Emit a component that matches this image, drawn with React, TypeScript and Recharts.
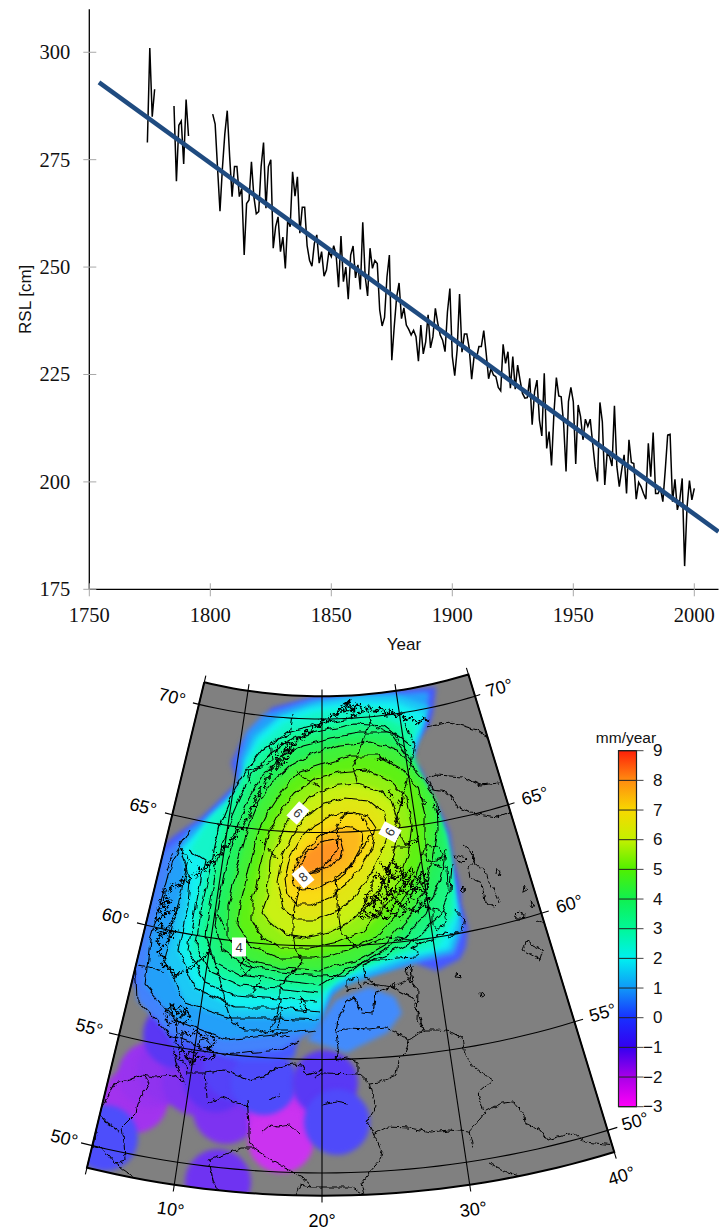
import React from 'react';
import {
  Bar, ComposedChart, Label, Line, LineChart, ReferenceLine, Scatter, ScatterChart, XAxis, YAxis,
} from 'recharts';

// ---- RSL record ----
const rslFirstYear = 1774;
const rslValues: (number | null)[] = [
  279, 301, 285, 291.4, null, null, null, null, null, null, null,
  287.5, 270, 283, 284, 274, 289, 280.5, null, null, null, null, null, null, null, null, null,
  285.6, 283.3, 273, 263, 273, 281, 286.4, 275.7, 266.4, 273.4,
  273.4, 266.4, 268.3, 252.8, 264.8, 265.6, 274.5, 266.4, 262.4, 262.9,
  273.4, 279, 263.7, 273.4, 275, 254.4, 259.4, 261.7, 253.6, 257,
  249.7, 261, 259.4, 272.2, 266.5, 271, 257.9, 263.9, 263.9, 255,
  251.6, 250.2, 255.5, 257.5, 250.9, 253.6, 247.9, 249.3, 253.6, 252.4,
  255, 252.8, 245.3, 257.2, 246.6, 250, 242.5, 252.8, 254.9, 247.5,
  250.5, 244.8, 260.4, 247.8, 243.3, 254.4, 249.7, 251.5, 250.8, 240,
  236.3, 238.3, 247.7, 252.8, 228.3, 236.1, 243, 246.3, 238, 240.5,
  236.5, 235.5, 234.2, 235.3, 233.8, 228.1, 236.5, 229.8, 232.6, 238.9,
  231.2, 233.8, 240.4, 236.9, 234.2, 233, 230.3, 239.6, 245, 229.2,
  224.7, 230.7, 243.7, 230.2, 234.4, 234.4, 231.1, 223.9, 229.2, 228.8,
  231.5, 231.5, 235.2, 229.9, 224, 226.4, 224.9, 224.5, 222, 221.2,
  232, 227.6, 230.3, 221.8, 229.2, 221.6, 227.2, 223.7, 220.6, 219.5,
  219.6, 224.1, 213.3, 221, 223.7, 214.4, 210.7, 225.3, 207.8, 211.7,
  203.8, 216, 224.3, 220, 219.8, 213.6, 202.4, 218.7, 222, 218.7,
  204.2, 217.9, 215.2, 209.8, 214.6, 212.9, 214.6, 209, 203.6, 200.1,
  218.5, 214, 199.3, 206.8, 205.9, 203.7, 217.7, 203.6, 198.9, 202.8,
  206.3, 197.3, 209.8, 204.5, 204.3, 196, 199.9, 198.9, 197.3, 196,
  209, 201.2, 211.5, 197.3, 197.3, 198.5, 195.4, 202.8, 210.9, 211.1,
  195.4, 200.6, 193.5, 195.8, 200.8, 180.4, 194.2, 200.3, 195.8, 198.5,
];
const trendYears = [1754, 2010];
const trendValues = [293, 188.4];
const yearTicks = [1750, 1800, 1850, 1900, 1950, 2000];
const rslTicks = [175, 200, 225, 250, 275, 300];

const rslRows = [
  { year: trendYears[0], rsl: null as number | null, trend: trendValues[0] as number | undefined },
  ...rslValues.map((rsl, i) => ({ year: rslFirstYear + i, rsl, trend: undefined })),
  { year: trendYears[1], rsl: null, trend: trendValues[1] },
];

// ---- rate colour scale ----
const rateTicks = [-3, -2, -1, 0, 1, 2, 3, 4, 5, 6, 7, 8, 9];
const rateColors = [
  '#ff00f8', '#a800e8', '#3400f0', '#1830ff', '#1098f8', '#00f0f0',
  '#00f898', '#10f050', '#50f000', '#c4f000', '#f8d800', '#ff8c10', '#ff2008',
];

const hexPart = (h: string, i: number) => parseInt(h.slice(1 + i * 2, 3 + i * 2), 16);
// the map is paler than the bar, most of all on the negative side
const rateColor = (v: number) => {
  const p = Math.max(0, Math.min(11.999, v + 3));
  const i = Math.floor(p);
  const f = p - i;
  const pale = v < 1 ? 0.2 : 0.08;
  const c = [0, 1, 2].map((k) => {
    const raw = hexPart(rateColors[i], k) * (1 - f) + hexPart(rateColors[i + 1], k) * f;
    return Math.round(raw * (1 - pale) + 255 * pale);
  });
  return `rgb(${c.join(',')})`;
};

// ---- map graticule (conic projection fitted to the picture) ----
const parallels = [50, 55, 60, 65, 70];
const meridians = [10, 20, 30];
const frameLons = [4, 40];
const frameLats = [49, 71];

const proj = (lon: number, lat: number) => {
  const r = 524 + (70 - lat) * 22.7;
  const t = ((lon - 20) * 0.849 * Math.PI) / 180;
  return { x: 322 + r * Math.sin(t), y: 195 + r * Math.cos(t) };
};
const lonSteps = (a: number, b: number) => {
  const out: number[] = [];
  for (let l = a; l < b; l += 1) out.push(l);
  out.push(b);
  return out;
};
const frameOutline = [
  ...lonSteps(frameLons[0], frameLons[1]).map((l) => proj(l, frameLats[1])),
  ...lonSteps(frameLons[0], frameLons[1]).reverse().map((l) => proj(l, frameLats[0])),
];
const frameClosed = [...frameOutline, frameOutline[0]];

// ---- map plane values: tide gauge patches [x, y, rate] ----
const gaugePatches: [number, number, number][] = [
  [135, 1100, -1.75], [151, 1075, -1.65], [170, 1070, -1.55], [195, 1082, -1.4],
  [226, 1111, -1.35], [216, 1079, -1.0], [236, 1068, -0.6], [176, 1035, -0.9],
  [218, 1182, -1.2], [105, 1138, -0.3], [281, 1120, -2.2], [281, 1140, -2.25],
  [264, 1082, -0.35], [325, 1083, -0.85], [337, 1122, -0.4],
];

const coveragePts: [number, number][] = [
  [317, 696], [436, 687], [433, 713], [430, 723], [416, 743], [413, 763], [420, 767], [433, 797],
  [443, 817], [450, 833], [453, 857], [461, 890], [461, 903], [468, 927], [466, 947], [460, 959],
  [437, 971], [420, 965], [412, 957], [397, 964], [363, 965], [345, 977], [330, 990], [322, 1010],
  [300, 1030], [294, 1058], [270, 1062], [240, 1062], [210, 1052], [175, 1050], [158, 1013],
  [133, 983], [120, 963], [100, 960], [120, 870], [160, 848], [175, 835], [201, 818], [215, 805],
  [238, 782], [231, 763], [241, 743], [261, 727], [271, 708],
];
const balticEastPts: [number, number][] = [
  [307, 1040], [322, 1020], [336, 1000], [369, 987], [395, 997], [402, 1013], [387, 1033],
  [358, 1047], [347, 1053], [329, 1047],
];

// [rate, edge before, contour, edge after]
type P = [number, number];
const isolines: [number, P[], P[], P[]][] = [
  [0.5, [], [[162, 853], [150, 900], [135, 960], [137, 1000], [170, 1035], [225, 1055], [280, 1050], [298, 1040]],
    [[318, 1028], [332, 995], [345, 982], [420, 962], [455, 955], [463, 930], [457, 900], [448, 857], [428, 797], [409, 765], [425, 722], [429, 692], [312, 699], [264, 714], [246, 732], [236, 762], [238, 785], [200, 822]]],
  [1, [], [[190, 830], [172, 860], [160, 905], [150, 940], [145, 985], [175, 1020], [225, 1040], [275, 1035], [316, 1030]],
    [[330, 995], [345, 985], [420, 960], [452, 952], [461, 928], [455, 900], [446, 857], [426, 797], [408, 765], [424, 722], [428, 693], [312, 701], [266, 716], [249, 733], [240, 762], [243, 785], [205, 820]]],
  [1.5, [[429, 706], [395, 695], [360, 695], [318, 702], [280, 716], [254, 736], [243, 760], [244, 786], [210, 818]],
    [[188, 860], [178, 905], [165, 960], [185, 1003], [230, 1018], [277, 1018], [318, 1020]],
    [[330, 990], [345, 982], [410, 960], [452, 950], [460, 925], [455, 900], [445, 857], [426, 797], [408, 765], [420, 735]]],
  [2, [[425, 714], [395, 702], [350, 702], [310, 708], [280, 718], [258, 738], [246, 762], [244, 788], [204, 824]],
    [[180, 850], [190, 880], [188, 905], [178, 950], [195, 988], [235, 1008], [280, 1008], [320, 1012]],
    [[332, 984], [345, 978], [400, 958], [448, 948], [458, 915], [454, 890], [444, 835], [426, 790], [409, 765], [414, 742]]],
  [2.5, [[420, 722], [385, 708], [350, 707], [315, 712], [285, 722], [260, 742], [246, 765], [240, 790], [210, 818]],
    [[190, 850], [205, 860], [196, 905], [188, 950], [205, 982], [235, 995], [280, 998], [318, 1002]],
    [[328, 988], [345, 975], [400, 956], [438, 948], [456, 915], [453, 885], [444, 835], [426, 790], [408, 765], [410, 745]]],
  [3, [[412, 730], [380, 716]], [[350, 718], [318, 724], [288, 732], [262, 750], [245, 772], [232, 796], [220, 825], [212, 860], [202, 905], [196, 945], [210, 972], [240, 985], [277, 988], [318, 993]],
    [[330, 985], [345, 972], [395, 955], [425, 943], [452, 915], [453, 885], [447, 850], [428, 797], [410, 765]]],
  [3.5, [], [[410, 745], [385, 726], [355, 724], [325, 730], [295, 738], [270, 754], [252, 774], [240, 797], [228, 825], [218, 860], [210, 905], [205, 935], [215, 962], [240, 975], [278, 980], [320, 985], [340, 972], [385, 955], [415, 940], [440, 915], [450, 890], [452, 865]],
    [[447, 835], [425, 785]]],
  [4, [], [[412, 762], [390, 733], [360, 733], [330, 738], [302, 745], [280, 758], [262, 776], [248, 800], [238, 825], [227, 860], [218, 905], [215, 925], [222, 950], [245, 965], [280, 972], [320, 976], [345, 975], [370, 958], [400, 940], [425, 915], [440, 880], [446, 850]],
    [[441, 820], [430, 795]]],
  [4.5, [], [[420, 775], [398, 750], [372, 742], [340, 745], [312, 754], [290, 766], [272, 783], [258, 804], [248, 828], [238, 865], [228, 905], [228, 938], [248, 960], [280, 968], [320, 970], [355, 962], [385, 945], [408, 920], [425, 890], [432, 860], [437, 830], [436, 800], [420, 775]], []],
  [5, [], [[240, 905], [250, 865], [258, 832], [270, 808], [283, 788], [300, 772], [322, 765], [350, 756], [378, 756], [400, 768], [418, 787], [425, 815], [425, 850], [412, 885], [395, 915], [375, 938], [348, 950], [315, 958], [280, 958], [252, 947], [238, 925], [240, 905]], []],
  [5.5, [], [[252, 905], [260, 865], [268, 835], [280, 812], [295, 793], [315, 778], [340, 772], [365, 770], [390, 780], [407, 798], [412, 825], [408, 855], [398, 885], [382, 912], [362, 932], [338, 942], [310, 948], [282, 948], [262, 937], [252, 920], [252, 905]], []],
  [6, [], [[268, 895], [270, 860], [280, 835], [293, 814], [310, 797], [330, 787], [355, 784], [378, 790], [393, 803], [400, 825], [395, 852], [385, 880], [368, 905], [350, 922], [330, 932], [305, 938], [285, 935], [270, 922], [262, 912], [268, 895]], []],
  [6.5, [], [[277, 882], [282, 856], [292, 835], [305, 818], [322, 805], [345, 798], [368, 800], [383, 812], [388, 830], [380, 855], [368, 880], [352, 900], [335, 912], [315, 920], [297, 920], [283, 908], [277, 882]], []],
  [7, [], [[285, 878], [290, 858], [300, 840], [315, 825], [333, 815], [352, 812], [368, 816], [376, 828], [372, 848], [358, 870], [345, 885], [330, 897], [312, 905], [297, 905], [287, 895], [285, 878]], []],
  [7.5, [], [[292, 875], [298, 860], [310, 845], [322, 834], [338, 827], [352, 828], [362, 834], [360, 850], [350, 868], [335, 880], [318, 888], [302, 889], [293, 884], [292, 875]], []],
  [8, [], [[298, 867], [307, 852], [323, 842], [340, 839], [343, 850], [341, 858], [327, 867], [315, 872], [303, 872], [298, 867]], []],
];

// coasts, borders, lakes
const coastLines: P[][] = [
  [[430, 723], [424, 718], [418, 724], [411, 717], [405, 720], [402, 712], [396, 717], [391, 710], [386, 716], [380, 707], [374, 713], [369, 706], [363, 712], [358, 703], [352, 710], [347, 702], [344, 712], [339, 708], [337, 716], [331, 714], [329, 722], [322, 719], [320, 727], [313, 725], [311, 733], [305, 731], [303, 739], [297, 737], [296, 745], [290, 744], [289, 752], [283, 751], [283, 760], [277, 760], [277, 769], [271, 769], [271, 778], [266, 778], [265, 787], [260, 787], [260, 796], [255, 797], [255, 806], [250, 808], [250, 817], [245, 820], [243, 828], [238, 830], [236, 838], [231, 838], [229, 846], [224, 846], [222, 854], [216, 855], [214, 863], [208, 862], [206, 870], [199, 868], [198, 876], [191, 874], [189, 882], [182, 879], [179, 887], [172, 884], [170, 892], [163, 890], [167, 898], [159, 900], [165, 906], [157, 910], [164, 916], [156, 920], [163, 926], [155, 930], [162, 936], [156, 941], [163, 946], [158, 952], [165, 958], [161, 965], [170, 968], [175, 976], [184, 972], [190, 968], [197, 962], [204, 958], [210, 950]],
  [[210, 950], [214, 958], [216, 966], [219, 975], [221, 985], [224, 995], [226, 1005], [229, 1015], [233, 1023], [245, 1030], [258, 1030], [268, 1033], [275, 1030], [287, 1030]],
  [[270, 1030], [277, 1015], [280, 1000], [280, 985], [290, 975], [303, 962], [296, 950], [293, 935], [293, 920], [294, 908], [298, 895], [302, 880], [310, 873], [322, 867], [330, 860], [337, 850], [338, 838], [337, 827], [344, 815], [349, 812], [360, 815], [368, 825], [371, 835], [365, 845], [358, 856], [350, 866], [343, 873], [335, 878], [336, 890], [338, 903], [339, 918], [341, 932], [348, 940], [358, 947], [368, 944], [378, 940], [387, 937], [398, 938], [410, 940], [420, 943], [433, 940], [437, 935], [445, 933], [452, 934]],
  [[420, 943], [412, 948], [418, 952], [415, 957], [397, 958], [385, 960], [373, 960], [363, 965], [365, 977], [372, 982]],
  [[336, 1033], [338, 1018], [347, 1002], [354, 998], [362, 1012], [373, 1013], [376, 992], [391, 987], [413, 998], [418, 1013], [424, 1030]],
  [[155, 1077], [142, 1075], [130, 1080], [115, 1083], [104, 1103], [98, 1113], [107, 1123], [120, 1132]],
  [[173, 1047], [176, 1063], [185, 1083], [173, 1075], [155, 1077]],
  [[187, 1073], [205, 1073], [224, 1070], [238, 1075], [249, 1080], [264, 1077], [278, 1067], [293, 1064], [302, 1065], [307, 1075], [322, 1070]],
  [[176, 1020], [178, 1032], [175, 1042], [181, 1050], [178, 1060], [186, 1063], [187, 1075]],
  [[170, 1003], [175, 1010], [182, 1005], [187, 1012], [180, 1018], [172, 1015], [170, 1003]],
  [[200, 1040], [207, 1038], [212, 1047], [205, 1052], [198, 1048], [200, 1040]],
  [[190, 1050], [197, 1053], [192, 1060], [186, 1056], [190, 1050]],
  [[427, 727], [450, 722], [477, 730], [488, 738]],
  [[499, 783], [480, 785], [463, 777], [437, 775], [427, 778], [433, 790], [447, 792], [458, 807], [470, 813], [497, 817], [520, 808]],
  [[520, 755], [497, 750]],
];
const borderLines: P[][] = [
  [[336, 1033], [347, 1028], [369, 1029], [384, 1027], [395, 1032], [409, 1040]],
  [[409, 1040], [424, 1030], [438, 1030], [451, 1032], [462, 1038], [464, 1050], [469, 1062], [482, 1073], [493, 1080], [478, 1093], [484, 1112], [502, 1103], [513, 1102], [524, 1115], [525, 1123], [540, 1130], [547, 1140], [573, 1133], [584, 1142], [616, 1145]],
  [[409, 1040], [405, 1053], [398, 1060], [396, 1075], [380, 1082], [369, 1083], [358, 1073], [358, 1062], [347, 1058], [336, 1060], [338, 1047], [336, 1033]],
  [[315, 1077], [322, 1073], [358, 1074]],
  [[369, 1083], [376, 1107], [367, 1122], [373, 1133], [382, 1152], [380, 1160], [369, 1173], [362, 1183], [365, 1195]],
  [[373, 1135], [387, 1127], [409, 1128], [431, 1132], [449, 1130], [469, 1132], [485, 1113]],
  [[469, 1132], [473, 1148]],
  [[253, 1148], [267, 1157], [289, 1170], [302, 1177], [311, 1187], [322, 1187], [351, 1187], [365, 1195]],
  [[295, 1195], [300, 1185], [311, 1187]],
  [[247, 1100], [249, 1123], [249, 1137], [253, 1148]],
  [[207, 1103], [222, 1097], [238, 1103], [249, 1107]],
  [[205, 1073], [207, 1098]],
  [[209, 1160], [242, 1148], [253, 1148]],
  [[209, 1160], [213, 1180], [220, 1195]],
  [[144, 1075], [149, 1083], [138, 1103], [136, 1113], [122, 1127], [124, 1143], [125, 1160], [115, 1163], [124, 1170], [138, 1180]],
  [[98, 1113], [93, 1147], [102, 1148], [115, 1163]],
  [[489, 1163], [507, 1172], [522, 1177]],
  [[262, 1132], [270, 1125], [278, 1127], [290, 1125], [300, 1134]],
  [[322, 1105], [336, 1102], [347, 1104]],
  [[269, 1100], [280, 1095]],
  [[413, 967], [410, 980], [418, 990], [417, 1020], [424, 1030]],
  [[363, 983], [393, 987], [407, 980]],
  [[405, 723], [415, 745], [408, 775], [402, 800], [395, 825], [405, 845], [420, 837], [410, 847], [392, 847]],
  [[430, 863], [447, 868], [448, 887]],
  [[367, 708], [372, 725], [395, 735], [400, 745], [408, 750]],
  [[357, 782], [353, 767], [370, 723]],
  [[297, 773], [308, 780], [320, 787]],
  [[260, 840], [268, 848], [278, 860]],
  [[218, 915], [225, 930]],
  [[250, 783], [248, 770], [262, 767], [272, 760], [270, 742], [290, 735], [293, 715]],
  [[180, 848], [192, 863]],
  [[173, 853], [167, 870]],
  [[138, 965], [150, 967], [165, 972]],
  [[453, 907], [465, 920], [462, 930], [448, 937]],
];
const lakeLoops: P[][] = [
  [[405, 970], [410, 965], [413, 980], [410, 983], [405, 970]],
  [[463, 845], [472, 852], [475, 865], [485, 870], [487, 880], [495, 890], [500, 902], [495, 907], [485, 902], [482, 883], [470, 877], [468, 868], [475, 860], [472, 852]],
  [[455, 855], [467, 858], [462, 863], [457, 860], [455, 855]],
  [[497, 868], [500, 872], [499, 876], [496, 873], [497, 868]],
  [[462, 888], [465, 890], [462, 892], [460, 890], [462, 888]],
  [[524, 885], [527, 890], [523, 892], [524, 885]],
  [[530, 900], [534, 905], [532, 908], [530, 900]],
  [[515, 915], [519, 911], [524, 914], [523, 919], [517, 919], [515, 915]],
  [[527, 940], [533, 945], [543, 950], [540, 960], [535, 957], [523, 950], [527, 940]],
  [[537, 920], [548, 925]],
  [[457, 973], [462, 978], [455, 977], [457, 973]],
  [[480, 993], [485, 995], [481, 997], [480, 993]],
  [[393, 982], [395, 985], [393, 988], [391, 985], [393, 982]],
  [[433, 908], [445, 912], [447, 922], [437, 930], [433, 925], [433, 908]],
  [[427, 845], [440, 848], [443, 858], [430, 862], [425, 855], [427, 845]],
  [[422, 797], [427, 803], [424, 805], [422, 797]],
  [[433, 803], [440, 810], [436, 813], [433, 803]],
  [[243, 958], [253, 967], [245, 973], [240, 967], [243, 958]],
  [[252, 993], [262, 977]],
  [[302, 997], [307, 1010], [303, 1013], [300, 1003], [302, 997]],
  [[283, 1007], [277, 1030]],
  [[347, 980], [357, 977], [360, 987], [347, 990], [347, 980]],
  [[275, 1035], [290, 1037]],
];
const lakeClusters: P[][] = [
  [[359, 917], [367, 897], [372, 898], [373, 908], [380, 890], [383, 878], [387, 892], [390, 870], [395, 880], [402, 873], [405, 887], [410, 875], [413, 890], [420, 880], [427, 897], [430, 898], [420, 903], [410, 897], [403, 908], [397, 900], [390, 912], [383, 905], [377, 917], [370, 913], [363, 918], [359, 917]],
  [[366, 905], [375, 900], [378, 893], [386, 900], [392, 888], [398, 893], [404, 882], [412, 886], [416, 893]],
  [[372, 880], [378, 872], [383, 884], [388, 866], [393, 878], [399, 866], [404, 878], [411, 868], [417, 880], [423, 872], [428, 886], [424, 892], [416, 888], [410, 896], [402, 890], [396, 899], [389, 893], [383, 903], [376, 897], [369, 905], [364, 899], [372, 890], [372, 880]],
  [[362, 908], [370, 918], [378, 910], [385, 920], [392, 912], [400, 918], [407, 908], [416, 912], [423, 904], [432, 910]],
  [[380, 862], [386, 870], [392, 860], [398, 868]],
  [[376, 760], [384, 758], [392, 763]],
  [[388, 790], [392, 795], [389, 797]],
  [[397, 803], [403, 799], [401, 806]],
  [[165, 1012], [172, 1005], [178, 1014], [186, 1008], [190, 1018], [183, 1024], [176, 1020], [168, 1025], [165, 1012]],
  [[182, 1030], [190, 1036], [196, 1030], [203, 1037], [210, 1033], [216, 1042], [208, 1048], [215, 1056], [206, 1060], [198, 1056], [192, 1064], [186, 1058], [182, 1045], [182, 1030]],
  [[158, 905], [170, 900], [164, 914], [178, 908], [170, 925], [160, 935], [176, 930], [165, 945]],
  [[335, 716], [342, 706], [350, 700], [346, 712], [356, 708], [350, 718], [362, 712]],
  [[278, 745], [288, 742], [284, 752], [294, 748], [288, 758], [280, 766], [276, 756], [278, 745]],
];

const contourTags: { x: number; y: number; text: string; angle: number }[] = [
  { x: 298, y: 813, text: '6', angle: 42 },
  { x: 390, y: 832, text: '6', angle: -62 },
  { x: 303, y: 877, text: '8', angle: -40 },
  { x: 239, y: 947, text: '4', angle: 0 },
];

const toPts = (list: P[]) => list.map(([x, y]) => ({ x, y }));
const MAP_FONT = '"Liberation Sans", Arial, sans-serif';
const SERIF = '"Liberation Serif", serif';

const pathOf = (points: { x: number; y: number }[], close: boolean) =>
  `M${points.map((p) => `${p.x},${p.y}`).join('L')}${close ? 'Z' : ''}`;

const noDot = () => null;
const fillBand = (color: string) => (p: any) => (
  <path d={pathOf(p.points, true)} fill={color} stroke="none" filter="url(#soft)" clipPath="url(#mapClip)" />
);
const frameClip = (p: any) => (
  <>
    <defs><clipPath id="mapClip"><path d={pathOf(p.points, true)} /></clipPath></defs>
    <path d={pathOf(p.points, true)} fill="#808080" stroke="none" />
  </>
);
const wiggly = (p: any) => (
  <g clipPath="url(#mapClip)">
    <path d={pathOf(p.points, false)} fill="none" stroke="#000" strokeWidth={1.05} filter="url(#wiggle)" />
  </g>
);
const rough = (width: number, filter: string) => (p: any) => (
  <g clipPath="url(#mapClip)">
    <path d={pathOf(p.points, false)} fill="none" stroke="#000" strokeWidth={width} strokeLinejoin="round" filter={`url(#${filter})`} />
  </g>
);
const frameLine = (p: any) => (
  <path d={pathOf(p.points, false)} fill="none" stroke="#000" strokeWidth={2} />
);
const gridLine = (p: any) => (
  <path d={pathOf(p.points, false)} fill="none" stroke="#000" strokeWidth={1.1} />
);
const gaugeDot = (p: any) => (
  <circle cx={p.cx} cy={p.cy} r={33} fill={rateColor(p.payload.rate)} filter="url(#soft)" clipPath="url(#mapClip)" />
);
const tagShape = (p: any) => (
  <g transform={`translate(${p.cx},${p.cy}) rotate(${p.payload.angle})`}>
    <rect x={-7} y={-9.5} width={14} height={19} fill="#fff" />
    <text textAnchor="middle" dominantBaseline="central" fontFamily={MAP_FONT} fontSize={13} fill="#333">{p.payload.text}</text>
  </g>
);
const labelShape = (p: any) => (
  <text
    transform={`translate(${p.cx},${p.cy}) rotate(${p.payload.angle})`}
    textAnchor="middle"
    dominantBaseline="central"
    fontFamily={MAP_FONT}
    fontSize={18}
    fill="#000"
  >
    {p.payload.text}
  </text>
);

const gridLabels = [
  ...parallels.map((lat) => ({ ...proj(0.4 + (70 - lat) * 0.08, lat), text: `${lat}°`, angle: 14 })),
  ...parallels.map((lat) => ({ ...proj(43.3 - (70 - lat) * 0.065, lat), text: `${lat}°`, angle: -16 })),
  ...[10, 20, 30, 40].map((lon) => ({ ...proj(lon, 47.9), text: `${lon}°`, angle: (20 - lon) * 0.849 })),
];

const XTick = ({ x, y, payload }: any) => (
  <g>
    <line x1={x} x2={x} y1={y - 6} y2={y + 7} stroke="#a8a8a8" />
    <text x={x} y={y + 26} textAnchor="middle" dominantBaseline="central" fontFamily={SERIF} fontSize={20.5} fill="#111">
      {payload.value}
    </text>
  </g>
);
const YTick = ({ x, y, payload }: any) => (
  <g>
    <line x1={x - 6} x2={x + 7} y1={y} y2={y} stroke="#a8a8a8" />
    <text x={x - 19} y={y} textAnchor="end" dominantBaseline="central" fontFamily={SERIF} fontSize={20.5} fill="#111">
      {payload.value}
    </text>
  </g>
);
const RateTick = ({ x, y, payload }: any) => (
  <text x={x + 19} y={y} textAnchor="end" dominantBaseline="central" fontFamily={MAP_FONT} fontSize={17} fill="#111">
    {String(payload.value).replace('-', '\u2212')}
  </text>
);

const RslChart = () => (
  <LineChart
    width={719}
    height={660}
    data={rslRows}
    margin={{ top: 9.3, right: 0.5, bottom: 0, left: 0 }}
    style={{ position: 'absolute', left: 0, top: 0 }}
  >
    <XAxis
      dataKey="year"
      type="number"
      domain={[1750, 2010]}
      ticks={yearTicks}
      height={70.7}
      tick={<XTick />}
      tickLine={false}
      tickSize={0}
      tickMargin={0}
      axisLine={{ stroke: '#000', strokeWidth: 1.3 }}
      interval={0}
    >
      <Label value="Year" position="insideBottom" offset={10} fontFamily={MAP_FONT} fontSize={17} fill="#111" />
    </XAxis>
    <YAxis
      type="number"
      domain={[175, 310]}
      ticks={rslTicks}
      width={89.3}
      tick={<YTick />}
      tickLine={false}
      tickSize={0}
      tickMargin={0}
      axisLine={{ stroke: '#000', strokeWidth: 1.3 }}
      interval={0}
    >
      <Label value="RSL [cm]" angle={-90} position="insideLeft" offset={25} style={{ textAnchor: 'middle' }} fontFamily={MAP_FONT} fontSize={17} fill="#111" />
    </YAxis>
    <Line dataKey="rsl" stroke="#000" strokeWidth={1.5} dot={false} connectNulls={false} isAnimationActive={false} />
    <Line dataKey="trend" stroke="#1f4b80" strokeWidth={4.6} dot={false} connectNulls isAnimationActive={false} />
  </LineChart>
);

const MapChart = () => (
  <ScatterChart
    width={719}
    height={571}
    margin={{ top: 0, right: 0, bottom: 0, left: 0 }}
    style={{ position: 'absolute', left: 0, top: 660 }}
  >
    <defs>
      <filter id="soft" x="-30%" y="-30%" width="160%" height="160%" colorInterpolationFilters="sRGB">
        <feGaussianBlur stdDeviation="2.6" />
      </filter>
      <filter id="wiggle" filterUnits="userSpaceOnUse" x="-20" y="-20" width="760" height="610" colorInterpolationFilters="sRGB">
        <feTurbulence type="fractalNoise" baseFrequency="0.09" numOctaves="2" seed="4" result="n" />
        <feDisplacementMap in="SourceGraphic" in2="n" scale="7" xChannelSelector="R" yChannelSelector="G" />
      </filter>
      <filter id="shore" filterUnits="userSpaceOnUse" x="-20" y="-20" width="760" height="610" colorInterpolationFilters="sRGB">
        <feTurbulence type="fractalNoise" baseFrequency="0.2" numOctaves="2" seed="9" result="n" />
        <feDisplacementMap in="SourceGraphic" in2="n" scale="5" xChannelSelector="R" yChannelSelector="G" />
      </filter>
      <filter id="fjord" filterUnits="userSpaceOnUse" x="-20" y="-20" width="760" height="610" colorInterpolationFilters="sRGB">
        <feTurbulence type="fractalNoise" baseFrequency="0.45" numOctaves="2" seed="2" result="n" />
        <feDisplacementMap in="SourceGraphic" in2="n" scale="7" xChannelSelector="R" yChannelSelector="G" />
      </filter>
    </defs>
    <XAxis type="number" dataKey="x" domain={[0, 719]} hide />
    <YAxis type="number" dataKey="y" domain={[660, 1231]} reversed hide />

    <Scatter data={frameClosed} line={frameClip} shape={noDot} isAnimationActive={false} />
    <Scatter
      data={gaugePatches.map(([x, y, rate]) => ({ x, y, rate }))}
      shape={gaugeDot}
      isAnimationActive={false}
    />
    <Scatter data={toPts(coveragePts)} line={fillBand(rateColor(0))} shape={noDot} isAnimationActive={false} />
    <Scatter data={toPts(balticEastPts)} line={fillBand(rateColor(0.6))} shape={noDot} isAnimationActive={false} />
    {isolines.map(([rate, before, line, after]) => (
      <Scatter
        key={`fill${rate}`}
        data={toPts([...before, ...line, ...after])}
        line={fillBand(rateColor(rate))}
        shape={noDot}
        isAnimationActive={false}
      />
    ))}
    {isolines.map(([rate, , line]) => (
      <Scatter key={`iso${rate}`} data={toPts(line)} line={wiggly} shape={noDot} isAnimationActive={false} />
    ))}
    {borderLines.map((l, i) => (
      <Scatter key={`b${i}`} data={toPts(l)} line={rough(1, 'shore')} shape={noDot} isAnimationActive={false} />
    ))}
    {lakeLoops.map((l, i) => (
      <Scatter key={`l${i}`} data={toPts(l)} line={rough(1, 'shore')} shape={noDot} isAnimationActive={false} />
    ))}
    {coastLines.map((l, i) => (
      <Scatter
        key={`c${i}`}
        data={toPts(l)}
        line={i < 1 ? rough(1.5, 'fjord') : rough(1.1, 'shore')}
        shape={noDot}
        isAnimationActive={false}
      />
    ))}
    {lakeClusters.map((l, i) => (
      <Scatter key={`k${i}`} data={toPts(l)} line={rough(1.4, 'fjord')} shape={noDot} isAnimationActive={false} />
    ))}
    {parallels.map((lat) => (
      <Scatter
        key={`p${lat}`}
        data={[3.2, ...lonSteps(4, 40), 40.7].map((lon) => proj(lon, lat))}
        line={gridLine}
        shape={noDot}
        isAnimationActive={false}
      />
    ))}
    {[...meridians, ...frameLons].map((lon) => (
      <Scatter
        key={`m${lon}`}
        data={[proj(lon, 71.3), proj(lon, 48.7)]}
        line={gridLine}
        shape={noDot}
        isAnimationActive={false}
      />
    ))}
    <Scatter data={frameClosed} line={frameLine} shape={noDot} isAnimationActive={false} />
    <Scatter data={contourTags} shape={tagShape} isAnimationActive={false} />
    <Scatter data={gridLabels} shape={labelShape} isAnimationActive={false} />
  </ScatterChart>
);

const RateBar = () => (
  <ComposedChart
    width={110}
    height={400}
    data={[{ name: 'rate', span: [rateTicks[0], rateTicks[rateTicks.length - 1]] }]}
    margin={{ top: 20.7, right: 0, bottom: 23.3, left: 28.5 }}
    barCategoryGap={0}
    style={{ position: 'absolute', left: 590, top: 730 }}
  >
    <defs>
      <linearGradient id="rateFill" x1="0" y1="1" x2="0" y2="0">
        {rateColors.map((c, i) => (
          <stop key={c} offset={`${(i / (rateColors.length - 1)) * 100}%`} stopColor={c} />
        ))}
      </linearGradient>
    </defs>
    <XAxis dataKey="name" hide />
    <YAxis
      orientation="right"
      type="number"
      domain={[-3, 9]}
      ticks={rateTicks}
      interval={0}
      width={63.5}
      tickSize={7}
      tickMargin={0}
      tickLine={{ stroke: '#444' }}
      axisLine={false}
      tick={<RateTick />}
    />
    <Bar dataKey="span" fill="url(#rateFill)" stroke="#222" strokeWidth={1.2} isAnimationActive={false} />
    {rateTicks.map((t) => (
      <ReferenceLine key={t} y={t} stroke="#222" strokeWidth={1} />
    ))}
    <text x={36} y={7} textAnchor="middle" dominantBaseline="central" fontFamily={MAP_FONT} fontSize={15.5} fill="#111">
      mm/year
    </text>
  </ComposedChart>
);

export default function App() {
  return (
    <div style={{ position: 'absolute', left: 0, top: 0, width: 719, height: 1231, background: '#fff' }}>
      <RslChart />
      <MapChart />
      <RateBar />
    </div>
  );
}
